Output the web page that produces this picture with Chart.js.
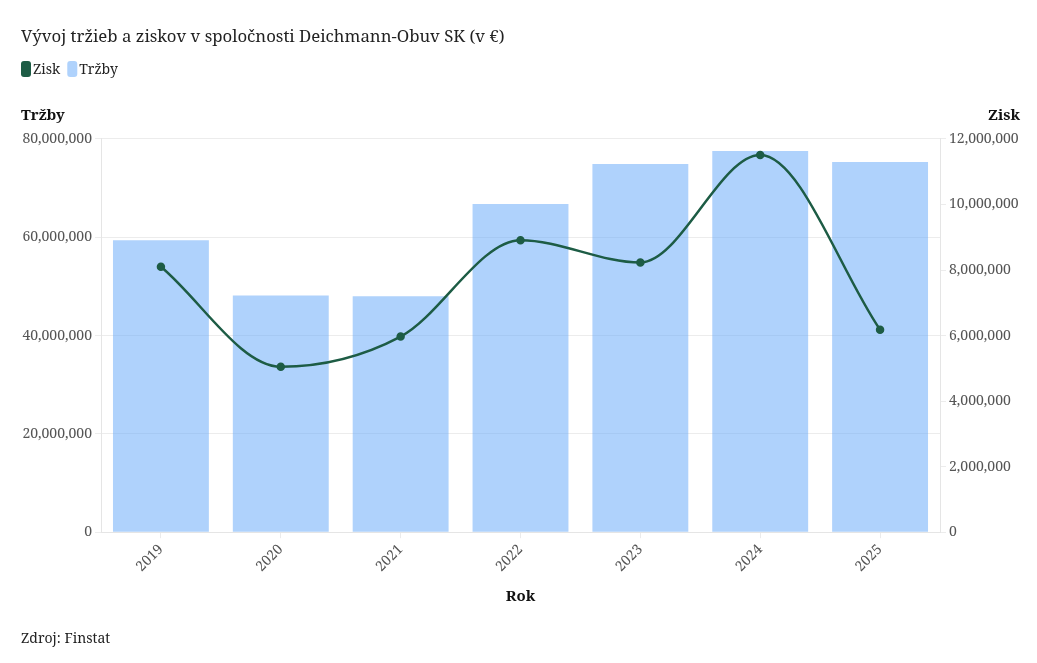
<!DOCTYPE html>
<html lang="sk">
  <head>
    <meta charset="UTF-8" />
    <script src="https://cdn.jsdelivr.net/npm/chart.js"></script>
    <style>
      html, body { margin: 0; padding: 0; background: #fff; }
      #wrap { width: 1037px; height: 663px; }
    </style>
  </head>
  <body>
    <div id="wrap"><canvas id="myChart"></canvas></div>

    <script>
      const years = ["2019", "2020", "2021", "2022", "2023", "2024", "2025"];
      const trzby = [59400000, 48150000, 48000000, 66750000, 74900000, 77550000, 75300000];
      const zisk = [8100000, 5050000, 5970000, 8910000, 8230000, 11510000, 6180000];

      const FONT = "'Noto Serif', 'DejaVu Serif', serif";
      const GREEN = "#1d5c45";
      const BLUE = "rgba(96, 165, 250, 0.5)";

      const fmt = (v) => Number(v).toLocaleString("en-US");

      // legend + titles above the two y axes
      const headers = {
        id: "headers",
        afterDraw(chart) {
          const c = chart.ctx;
          c.save();
          c.textBaseline = "middle";

          // legend, drawn by hand so the spacing matches
          c.font = "14px " + FONT;
          let x = 21;
          chart.getSortedVisibleDatasetMetas().forEach((meta) => {
            const ds = chart.data.datasets[meta.index];
            c.fillStyle = ds.type === "line" ? ds.borderColor : ds.backgroundColor;
            c.beginPath();
            c.roundRect(x, 61, 10, 16, 3);
            c.fill();
            c.fillStyle = "#222";
            c.textAlign = "left";
            c.fillText(ds.label, x + 12, 70);
            x += 12 + c.measureText(ds.label).width + 7;
          });

          c.font = "bold 15px " + FONT;
          c.fillStyle = "#111";
          c.textAlign = "left";
          c.fillText("Tržby", 21, 116);
          c.textAlign = "right";
          c.fillText("Zisk", 1020, 116);
          c.restore();
        },
      };

      const ctx = document.getElementById("myChart");
      const myChart = new Chart(ctx, {
        data: {
          labels: years,
          datasets: [
            {
              type: "line",
              label: "Zisk",
              data: zisk,
              yAxisID: "y1",
              borderColor: GREEN,
              backgroundColor: GREEN,
              borderWidth: 2.5,
              pointRadius: 3,
              pointBackgroundColor: GREEN,
              cubicInterpolationMode: "monotone",
              order: 0,
            },
            {
              type: "bar",
              label: "Tržby",
              data: trzby,
              yAxisID: "y",
              backgroundColor: BLUE,
              borderWidth: 0,
              barPercentage: 0.8,
              categoryPercentage: 1.0,
              order: 1,
            },
          ],
        },
        options: {
          responsive: true,
          maintainAspectRatio: false,
          animation: false,
          layout: { padding: { left: 21, right: 17, top: 17, bottom: 0 } },
          plugins: {
            title: {
              display: true,
              text: "Vývoj tržieb a ziskov v spoločnosti Deichmann-Obuv SK (v €)",
              align: "start",
              color: "#222",
              font: { family: FONT, size: 16.8, weight: "normal" },
              padding: { top: 10, bottom: 91.8 },
            },
            subtitle: {
              display: true,
              text: "Zdroj: Finstat",
              position: "bottom",
              align: "start",
              color: "#222",
              font: { family: FONT, size: 14, weight: "normal" },
              padding: { top: 20, bottom: 16 },
            },
            legend: { display: false },
            tooltip: { enabled: false },
          },
          scales: {
            x: {
              grid: { color: "#ebebeb", drawOnChartArea: false, tickLength: 6, offset: false },
              border: { color: "#e5e5e5" },
              ticks: {
                color: "#555",
                font: { family: FONT, size: 14 },
                maxRotation: 45,
                minRotation: 45,
              },
              title: {
                display: true,
                text: "Rok",
                color: "#111",
                font: { family: FONT, size: 15, weight: "bold" },
              },
              afterFit(scale) {
                scale.height = 78;
              },
            },
            y: {
              position: "left",
              min: 0,
              max: 80000000,
              ticks: {
                stepSize: 20000000,
                color: "#555",
                font: { family: FONT, size: 14 },
                callback: (v) => fmt(v),
              },
              grid: { color: "#ececec", tickLength: 6 },
              border: { color: "#e5e5e5" },
              afterFit(scale) {
                scale.width = 80;
              },
            },
            y1: {
              position: "right",
              min: 0,
              max: 12000000,
              ticks: {
                stepSize: 2000000,
                color: "#555",
                font: { family: FONT, size: 14 },
                callback: (v) => fmt(v),
              },
              grid: { drawOnChartArea: false, color: "#ececec", tickLength: 6 },
              border: { color: "#e5e5e5" },
              afterFit(scale) {
                scale.width = 80;
              },
            },
          },
        },
        plugins: [headers],
      });
    </script>
  </body>
</html>
